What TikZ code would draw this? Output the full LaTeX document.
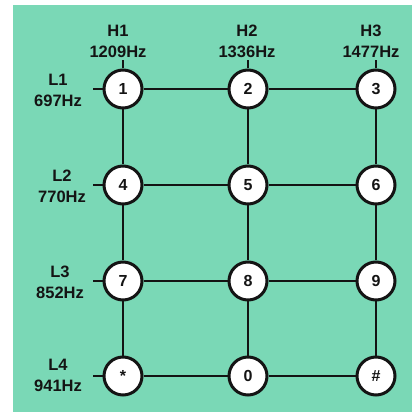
\documentclass[tikz,border=0pt]{standalone}
\usepackage{fontspec}
\setmainfont{Liberation Sans}
\definecolor{mint}{RGB}{122,216,182}
\definecolor{ink}{RGB}{20,20,20}
\begin{document}
\begin{tikzpicture}[x=1pt,y=-1pt,
  keybox/.style={circle, draw=ink, line width=3pt, fill=white, minimum size=38pt, inner sep=0pt,
    text=ink, font=\fontsize{16}{16}\selectfont\bfseries},
  wire/.style={draw=ink, line width=1.9pt},
  lab/.style={align=center, text=ink, inner sep=0pt, font=\fontsize{16.5}{21}\selectfont\bfseries}]
\useasboundingbox (0,0) rectangle (418,414);
\fill[white] (0,0) rectangle (418,414);
\fill[mint] (13,5) rectangle (412,412);
% keys
\node[keybox] (k1) at (123,89) {1};
\node[keybox] (k2) at (248,89) {2};
\node[keybox] (k3) at (376,89) {3};
\node[keybox] (k4) at (123,185) {4};
\node[keybox] (k5) at (248,185) {5};
\node[keybox] (k6) at (376,185) {6};
\node[keybox] (k7) at (123,281) {7};
\node[keybox] (k8) at (248,281) {8};
\node[keybox] (k9) at (376,281) {9};
\node[keybox] (ks) at (123,376) {*};
\node[keybox] (k0) at (248,376) {0};
\node[keybox] (kh) at (376,376) {\#};
% grid connectors
\draw[wire] (k1) -- (k2); \draw[wire] (k2) -- (k3);
\draw[wire] (k4) -- (k5); \draw[wire] (k5) -- (k6);
\draw[wire] (k7) -- (k8); \draw[wire] (k8) -- (k9);
\draw[wire] (ks) -- (k0); \draw[wire] (k0) -- (kh);
\draw[wire] (k1) -- (k4); \draw[wire] (k4) -- (k7); \draw[wire] (k7) -- (ks);
\draw[wire] (k2) -- (k5); \draw[wire] (k5) -- (k8); \draw[wire] (k8) -- (k0);
\draw[wire] (k3) -- (k6); \draw[wire] (k6) -- (k9); \draw[wire] (k9) -- (kh);
% stubs
\coordinate (t1) at (123,60); \coordinate (t2) at (248,60); \coordinate (t3) at (376,60);
\coordinate (l1) at (93,89); \coordinate (l2) at (93,185); \coordinate (l3) at (93,281); \coordinate (l4) at (93,376);
\draw[wire] (k1) -- (t1); \draw[wire] (k2) -- (t2); \draw[wire] (k3) -- (t3);
\draw[wire] (k1) -- (l1); \draw[wire] (k4) -- (l2); \draw[wire] (k7) -- (l3); \draw[wire] (ks) -- (l4);
% labels
\node[lab] (h1) at (118,41) {H1\\1209Hz};
\node[lab] (h2) at (247,41) {H2\\1336Hz};
\node[lab] (h3) at (371,41) {H3\\1477Hz};
\node[lab] (ll1) at (58,90) {L1\\697Hz};
\node[lab] (ll2) at (62,186) {L2\\770Hz};
\node[lab] (ll3) at (60,282) {L3\\852Hz};
\node[lab] (ll4) at (58,375) {L4\\941Hz};
\end{tikzpicture}
\end{document}
